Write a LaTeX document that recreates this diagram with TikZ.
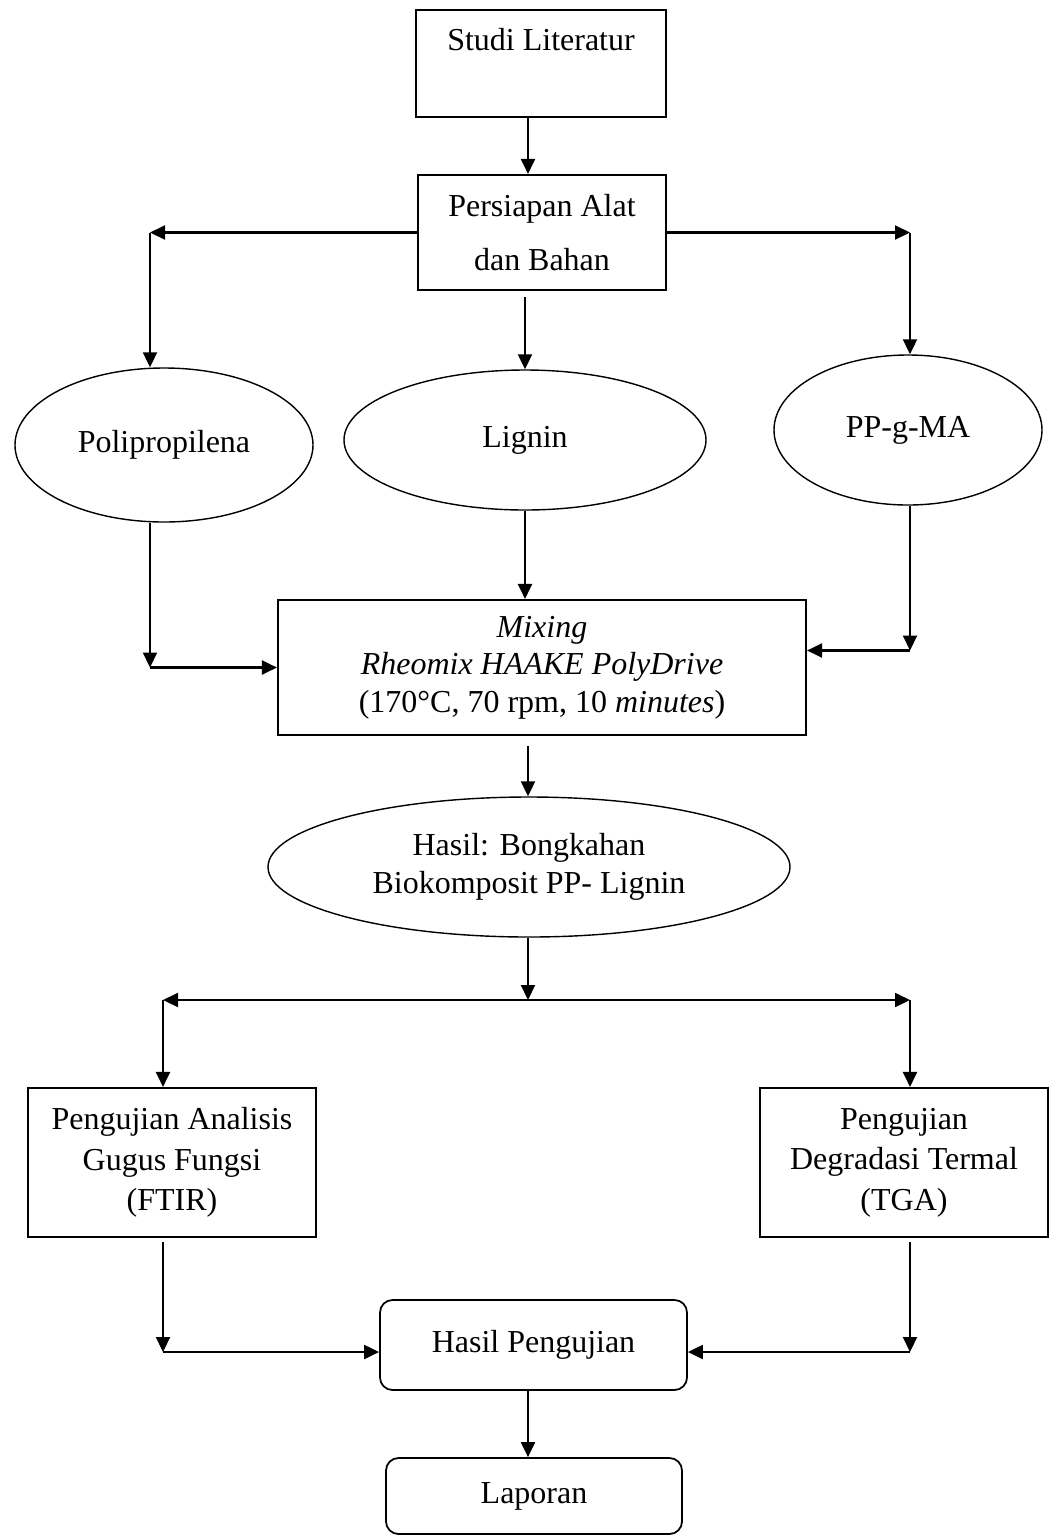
\documentclass[tikz,border=0pt]{standalone}
\usepackage{fontspec}
\setmainfont{Liberation Serif}
\usetikzlibrary{calc}
\usetikzlibrary{positioning}
\usetikzlibrary{shapes.geometric}
\usetikzlibrary{arrows.meta}
\newcommand{\lineColor}{black}
\newcommand{\tipLen}{3mm}
\newcommand{\teks}{\fontsize{18.2}{21.5}\selectfont}
\tikzset{kotak/.style = {draw=\lineColor, line width=1.2pt, inner sep=0pt, align=center, font=\teks}}
\tikzset{kotakBulat/.style = {kotak, rounded corners=2.5mm, line width=1pt}}
\tikzset{elips/.style = {ellipse, draw=\lineColor, line width=0.8pt, inner sep=0pt, align=center, font=\teks}}
\tikzset{panah/.style = {\lineColor, line width=1.2pt, -{Triangle[length=\tipLen, width=2.8mm]}}}

\begin{document}
\begin{tikzpicture}[x=0.2mm, y=-0.2mm]
    \useasboundingbox (0,0) rectangle (1050,1537);

    \coordinate (sumbu) at (528,0);
    \coordinate (kiri) at (150,0);
    \coordinate (kanan) at (910,0);
    \coordinate (kiriBawah) at (163,0);
    \coordinate (kananBawah) at (910,0);

    \node[kotak, minimum width=50mm, minimum height=21.4mm] (studi) at (541,63.5) {Studi Literatur\\ \strut};
    \node[kotak, minimum width=49.6mm, minimum height=23mm, font={\fontsize{18.2}{31}\selectfont}] (persiapan) at (542,232.5) {Persiapan Alat\\dan Bahan};

    \node[elips, minimum width=59.6mm, minimum height=30.8mm] (poli) at (164,445) {Polipropilena};
    \node[elips, minimum width=72.4mm, minimum height=28mm] (lignin) at (525,440) {Lignin};
    \node[elips, minimum width=53.6mm, minimum height=30mm] (ppgma) at (908,430) {PP-g-MA};

    \node[kotak, minimum width=105.6mm, minimum height=27mm, font={\fontsize{18.2}{21.3}\selectfont}] (campur) at (542,667.5)
        {\textit{Mixing}\\\textit{Rheomix HAAKE PolyDrive}\\(170°C, 70 rpm, 10 \textit{minutes})};
    \node[elips, minimum width=104.4mm, minimum height=28mm, font={\fontsize{18.2}{22}\selectfont}] (hasil) at (529,867)
        {Hasil: Bongkahan\\Biokomposit PP- Lignin};

    \coordinate (cabang) at (528,1000);

    \node[kotak, minimum width=57.6mm, minimum height=29.8mm, font={\fontsize{18.2}{23}\selectfont}] (ftir) at (172,1162.5)
        {Pengujian Analisis\\Gugus Fungsi\\(FTIR)};
    \node[kotak, minimum width=57.6mm, minimum height=29.8mm, font={\fontsize{18.2}{23}\selectfont}] (tga) at (904,1162.5)
        {Pengujian\\Degradasi Termal\\(TGA)};

    \node[kotakBulat, minimum width=61.4mm, minimum height=18mm] (uji) at (533.5,1345) {Hasil Pengujian};
    \node[kotakBulat, minimum width=59.2mm, minimum height=15.2mm] (laporan) at (534,1496) {Laporan};

    \draw[panah] (studi.south -| sumbu) -- (persiapan.north -| sumbu);
    \draw[panah] (persiapan.west) -- (persiapan.west -| kiri);
    \draw[panah] (persiapan.west -| kiri) -- (kiri |- poli.north);
    \draw[panah] (persiapan.east) -- (persiapan.east -| kanan);
    \draw[panah] (persiapan.east -| kanan) -- (kanan |- ppgma.north);
    \draw[panah] ($(persiapan.south -| lignin.north)+(0,6)$) -- (lignin.north);

    \draw[panah] (poli.south -| kiri) -- (kiri |- campur.west);
    \draw[panah] (kiri |- campur.west) -- (campur.west);
    \draw[panah] (lignin.south) -- (lignin.south |- campur.north);
    \draw[panah] (ppgma.south -| kanan) -- ($(kanan |- campur.east)+(0,-17)$);
    \draw[panah] ($(kanan |- campur.east)+(0,-17)$) -- ($(campur.east)+(0,-17)$);

    \draw[panah] ($(campur.south -| sumbu)+(0,10)$) -- (hasil.north -| sumbu);
    \draw[panah] (hasil.south -| sumbu) -- (cabang);
    \draw[panah] (cabang) -- (cabang -| kiriBawah);
    \draw[panah] (cabang) -- (cabang -| kananBawah);
    \draw[panah] (cabang -| kiriBawah) -- (kiriBawah |- ftir.north);
    \draw[panah] (cabang -| kananBawah) -- (kananBawah |- tga.north);

    \draw[panah] ($(ftir.south -| kiriBawah)+(0,4)$) -- ($(kiriBawah |- uji.west)+(0,7)$);
    \draw[panah] ($(kiriBawah |- uji.west)+(0,7)$) -- ($(uji.west)+(0,7)$);
    \draw[panah] ($(tga.south -| kananBawah)+(0,4)$) -- ($(kananBawah |- uji.east)+(0,7)$);
    \draw[panah] ($(kananBawah |- uji.east)+(0,7)$) -- ($(uji.east)+(0,7)$);
    \draw[panah] (uji.south -| sumbu) -- (laporan.north -| sumbu);
\end{tikzpicture}
\end{document}
